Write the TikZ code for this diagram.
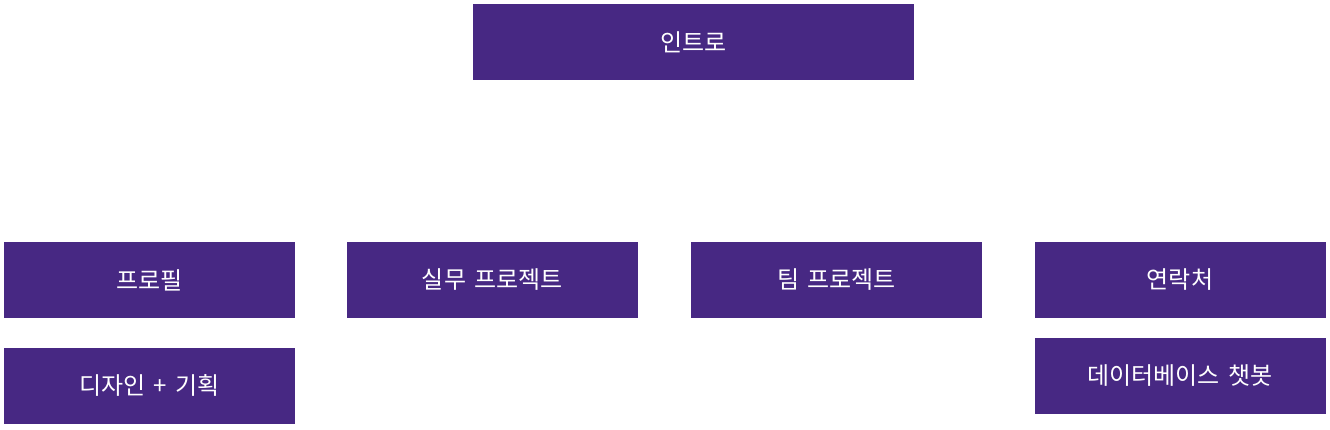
\documentclass[tikz,border=0pt]{standalone}
\usepackage{fontspec}
\setmainfont[WordSpace=1.6]{Noto Sans CJK KR}
\definecolor{menupurple}{RGB}{71,40,131}
\tikzset{menubox/.style={fill=menupurple, text=white, minimum width=291pt, minimum height=76pt, inner sep=0pt, font=\fontsize{24}{28}\selectfont}}
\begin{document}
\begin{tikzpicture}[x=1pt,y=-1pt]
	\useasboundingbox (0,0) rectangle (1330,429);
	\node[menubox, minimum width=441pt] (intro) at (693.75,42) {인트로};
	\node[menubox] (profile) at (149.5,280) {프로필};
	\node[menubox] (work) at (492.5,280) {실무 프로젝트};
	\node[menubox] (team) at (836.5,280) {팀 프로젝트};
	\node[menubox] (contact) at (1180,280) {연락처};
	\node[menubox] (design) at (149.5,385.5) {디자인 + 기획};
	\node[menubox] (chatbot) at (1180,375.5) {데이터베이스 챗봇};
\end{tikzpicture}
\end{document}
